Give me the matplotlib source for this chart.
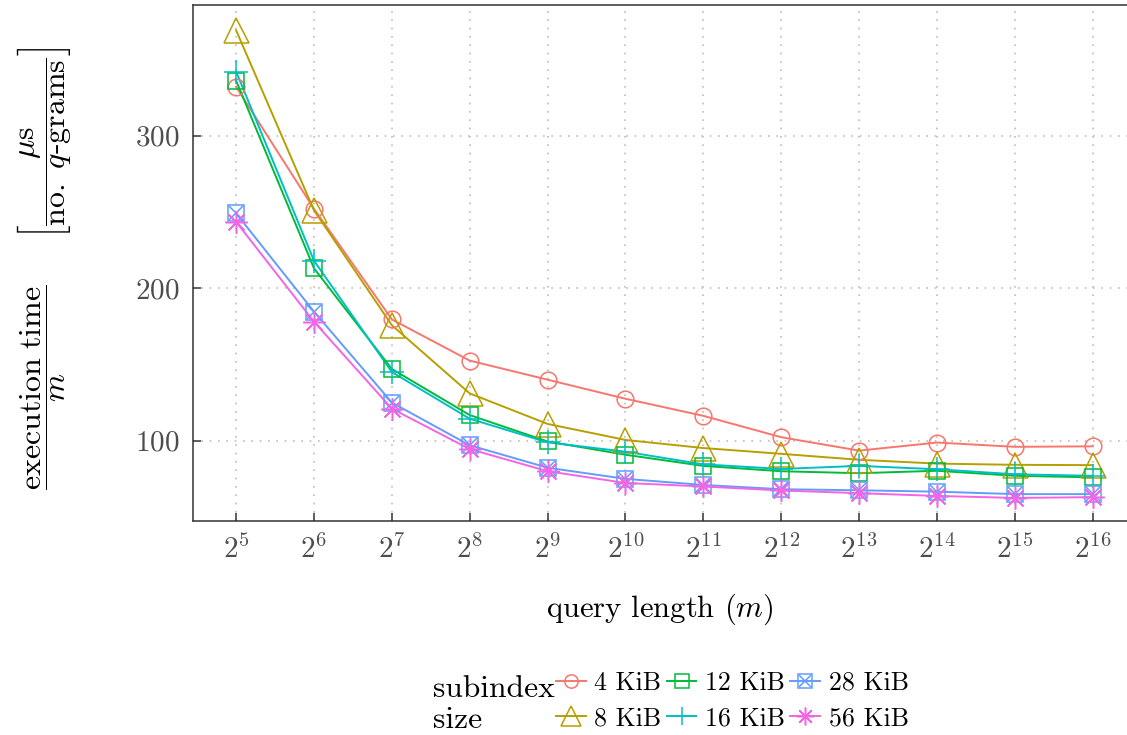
import numpy as np
import matplotlib
matplotlib.use("Agg")
import matplotlib.pyplot as plt
from matplotlib.lines import Line2D
from matplotlib.legend_handler import HandlerTuple

plt.rcParams['font.family'] = 'serif'
plt.rcParams['font.serif'] = ['cmr10', 'DejaVu Serif']
plt.rcParams['mathtext.fontset'] = 'cm'
plt.rcParams['axes.formatter.use_mathtext'] = True

# exponentes de la longitud de consulta (m = 2^k)
exponents = [5, 6, 7, 8, 9, 10, 11, 12, 13, 14, 15, 16]
sizes = ['4 KiB', '8 KiB', '12 KiB', '16 KiB', '28 KiB', '56 KiB']

t_4 = [332, 252, 179.5, 152.5, 140, 127.5, 116.3, 102.3, 93.5, 98.8, 96, 96.3]
t_8 = [369, 251, 175.7, 131, 111, 100.5, 95.2, 91.4, 87.5, 85, 84.2, 84]
t_12 = [336, 213, 147, 116.8, 99.5, 90.8, 83.5, 80, 78.7, 80.3, 77, 76]
t_16 = [342, 218, 145, 114.4, 98.9, 92.8, 84.5, 81.5, 83.5, 81.3, 78, 77]
t_28 = [249, 184.6, 125, 97, 82.3, 75, 71, 68.2, 67.5, 66.6, 65, 65]
t_56 = [243.5, 178, 121, 94.5, 80, 72.3, 70, 67.4, 65.6, 63.8, 62.5, 63]

series = [t_4, t_8, t_12, t_16, t_28, t_56]
colors = ['#F8766D', '#B79F00', '#00BA38', '#00BFC4', '#619CFF', '#F564E3']

# estilo de marcador por serie
marker_specs = {
    '4 KiB': [dict(marker='o', ms=12, mfc='none')],
    '8 KiB': [dict(marker='^', ms=18, mfc='none')],
    '12 KiB': [dict(marker='s', ms=12, mfc='none')],
    '16 KiB': [dict(marker='+', ms=17)],
    '28 KiB': [dict(marker='s', ms=12, mfc='none'), dict(marker='x', ms=10)],
    '56 KiB': [dict(marker=(8, 2, 0), ms=16)],
}

fig = plt.figure(figsize=(11.27, 7.35), dpi=100)
ax = fig.add_axes([0.1715, 0.291, 0.8285, 0.702])

x = np.array(exponents)
handles = []
for vals, col, name in zip(series, colors, sizes):
    ax.plot(x, vals, color=col, lw=1.4, zorder=3)
    parts = []
    for i, spec in enumerate(marker_specs[name]):
        ax.plot(x, vals, ls='none', mec=col, mew=1.1, zorder=4, **spec)
        lspec = dict(spec)
        lspec['ms'] = spec['ms'] * 0.8
        parts.append(Line2D([], [], color=col, lw=1.4 if i == 0 else 0,
                            ls='-' if i == 0 else 'none', mec=col, mew=1.1, **lspec))
    handles.append(tuple(parts) if len(parts) > 1 else parts[0])

ax.set_xlim(4.45, 16.44)
ax.set_ylim(47.3, 385.5)
ax.set_xticks(exponents)
ax.set_xticklabels([r'$2^{%d}$' % e for e in exponents])
ax.set_yticks([100, 200, 300])

ax.grid(True, color='#BEBEBE', ls=(0, (1, 4)), lw=1.2, zorder=0)
for s in ['left', 'bottom', 'top']:
    ax.spines[s].set_color('#333333')
    ax.spines[s].set_linewidth(1.1)
ax.spines['right'].set_visible(False)
ax.tick_params(direction='in', length=6, width=1.1, color='#333333',
               labelsize=21, labelcolor='#4D4D4D', pad=10)

ax.set_xlabel(r'query length ($m$)', fontsize=22, labelpad=20)
ax.set_ylabel(r'$\dfrac{\mathrm{execution\ time}}{m}\quad\;\;\left[\dfrac{\mu\mathrm{s}}{\mathrm{no.}\ q\text{-grams}}\right]$',
              fontsize=23)
ax.yaxis.set_label_coords(-0.128, 0.49)

fig.text(433 / 1127, 1 - 697 / 735, 'subindex', fontsize=22.7, ha='left', va='baseline')
fig.text(433 / 1127, 1 - 728 / 735, 'size', fontsize=22.7, ha='left', va='baseline')
fig.legend(handles, sizes, ncol=3, loc='upper left',
           bbox_to_anchor=(556 / 1127, 1 - 671 / 735),
           frameon=False, fontsize=18.6, handlelength=1.15, handletextpad=0.34,
           columnspacing=0.2, labelspacing=0.45, borderpad=0, borderaxespad=0,
           handler_map={tuple: HandlerTuple(ndivide=1)})

fig.savefig('out.png', dpi=100)
